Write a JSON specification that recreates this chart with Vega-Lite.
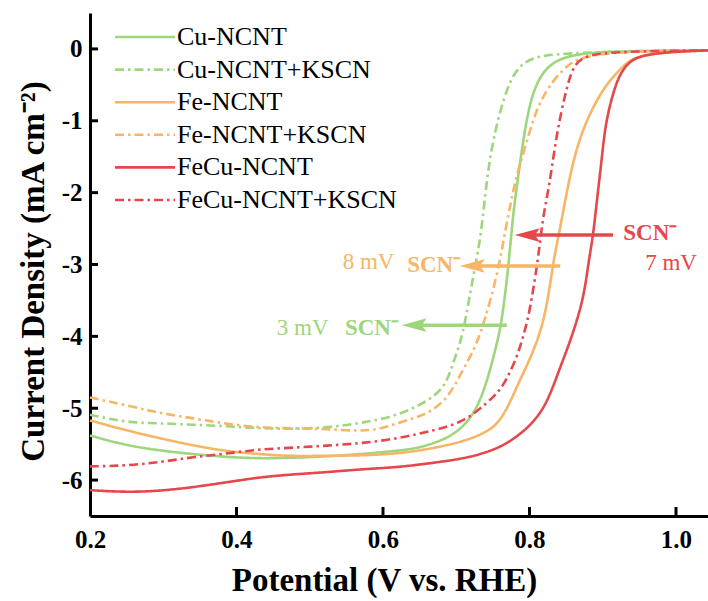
{
  "$schema": "https://vega.github.io/schema/vega-lite/v6.json",
  "width": 618,
  "height": 503,
  "autosize": {"type": "none"},
  "padding": {"left": 90, "top": 13, "right": 0, "bottom": 85},
  "background": "white",
  "config": {
    "view": {"stroke": null},
    "font": "Liberation Serif",
    "axis": {
      "labelFont": "Liberation Serif",
      "titleFont": "Liberation Serif",
      "labelColor": "black",
      "titleColor": "black",
      "domainColor": "black",
      "domainWidth": 3,
      "grid": false,
      "labelFlush": false,
      "labelOverlap": false
    }
  },
  "datasets": {
    "curves": [
      {"series": "Cu-NCNT", "E": 0.2, "j": -5.38}, {"series": "Cu-NCNT", "E": 0.25, "j": -5.52}, {"series": "Cu-NCNT", "E": 0.296, "j": -5.59}, {"series": "Cu-NCNT", "E": 0.341, "j": -5.64}, {"series": "Cu-NCNT", "E": 0.387, "j": -5.68}, {"series": "Cu-NCNT", "E": 0.432, "j": -5.7}, {"series": "Cu-NCNT", "E": 0.477, "j": -5.69}, {"series": "Cu-NCNT", "E": 0.524, "j": -5.67}, {"series": "Cu-NCNT", "E": 0.569, "j": -5.64}, {"series": "Cu-NCNT", "E": 0.623, "j": -5.59}, {"series": "Cu-NCNT", "E": 0.651, "j": -5.55}, {"series": "Cu-NCNT", "E": 0.692, "j": -5.41}, {"series": "Cu-NCNT", "E": 0.719, "j": -5.17}, {"series": "Cu-NCNT", "E": 0.736, "j": -4.82}, {"series": "Cu-NCNT", "E": 0.747, "j": -4.44}, {"series": "Cu-NCNT", "E": 0.755, "j": -4.12}, {"series": "Cu-NCNT", "E": 0.761, "j": -3.85}, {"series": "Cu-NCNT", "E": 0.767, "j": -3.4}, {"series": "Cu-NCNT", "E": 0.772, "j": -2.94}, {"series": "Cu-NCNT", "E": 0.776, "j": -2.48}, {"series": "Cu-NCNT", "E": 0.78, "j": -2.11}, {"series": "Cu-NCNT", "E": 0.787, "j": -1.59}, {"series": "Cu-NCNT", "E": 0.797, "j": -0.89}, {"series": "Cu-NCNT", "E": 0.81, "j": -0.43}, {"series": "Cu-NCNT", "E": 0.832, "j": -0.16}, {"series": "Cu-NCNT", "E": 0.869, "j": -0.06}, {"series": "Cu-NCNT", "E": 0.924, "j": -0.03}, {"series": "Cu-NCNT", "E": 1.044, "j": -0.02},

      {"series": "Cu-NCNT+KSCN", "E": 0.2, "j": -5.09}, {"series": "Cu-NCNT+KSCN", "E": 0.25, "j": -5.2}, {"series": "Cu-NCNT+KSCN", "E": 0.296, "j": -5.21}, {"series": "Cu-NCNT+KSCN", "E": 0.341, "j": -5.23}, {"series": "Cu-NCNT+KSCN", "E": 0.387, "j": -5.25}, {"series": "Cu-NCNT+KSCN", "E": 0.432, "j": -5.28}, {"series": "Cu-NCNT+KSCN", "E": 0.477, "j": -5.29}, {"series": "Cu-NCNT+KSCN", "E": 0.524, "j": -5.27}, {"series": "Cu-NCNT+KSCN", "E": 0.569, "j": -5.21}, {"series": "Cu-NCNT+KSCN", "E": 0.623, "j": -5.1}, {"series": "Cu-NCNT+KSCN", "E": 0.668, "j": -4.86}, {"series": "Cu-NCNT+KSCN", "E": 0.685, "j": -4.68}, {"series": "Cu-NCNT+KSCN", "E": 0.694, "j": -4.43}, {"series": "Cu-NCNT+KSCN", "E": 0.702, "j": -4.19}, {"series": "Cu-NCNT+KSCN", "E": 0.709, "j": -3.96}, {"series": "Cu-NCNT+KSCN", "E": 0.716, "j": -3.57}, {"series": "Cu-NCNT+KSCN", "E": 0.723, "j": -3.18}, {"series": "Cu-NCNT+KSCN", "E": 0.73, "j": -2.8}, {"series": "Cu-NCNT+KSCN", "E": 0.735, "j": -2.48}, {"series": "Cu-NCNT+KSCN", "E": 0.743, "j": -1.69}, {"series": "Cu-NCNT+KSCN", "E": 0.753, "j": -1.13}, {"series": "Cu-NCNT+KSCN", "E": 0.769, "j": -0.53}, {"series": "Cu-NCNT+KSCN", "E": 0.787, "j": -0.2}, {"series": "Cu-NCNT+KSCN", "E": 0.814, "j": -0.09}, {"series": "Cu-NCNT+KSCN", "E": 0.859, "j": -0.06}, {"series": "Cu-NCNT+KSCN", "E": 0.924, "j": -0.03}, {"series": "Cu-NCNT+KSCN", "E": 1.044, "j": -0.02},

      {"series": "Fe-NCNT", "E": 0.2, "j": -5.17}, {"series": "Fe-NCNT", "E": 0.25, "j": -5.31}, {"series": "Fe-NCNT", "E": 0.296, "j": -5.42}, {"series": "Fe-NCNT", "E": 0.341, "j": -5.52}, {"series": "Fe-NCNT", "E": 0.387, "j": -5.6}, {"series": "Fe-NCNT", "E": 0.432, "j": -5.64}, {"series": "Fe-NCNT", "E": 0.477, "j": -5.67}, {"series": "Fe-NCNT", "E": 0.524, "j": -5.66}, {"series": "Fe-NCNT", "E": 0.569, "j": -5.66}, {"series": "Fe-NCNT", "E": 0.623, "j": -5.63}, {"series": "Fe-NCNT", "E": 0.668, "j": -5.56}, {"series": "Fe-NCNT", "E": 0.715, "j": -5.45}, {"series": "Fe-NCNT", "E": 0.746, "j": -5.31}, {"series": "Fe-NCNT", "E": 0.76, "j": -5.17}, {"series": "Fe-NCNT", "E": 0.773, "j": -4.93}, {"series": "Fe-NCNT", "E": 0.785, "j": -4.65}, {"series": "Fe-NCNT", "E": 0.8, "j": -4.33}, {"series": "Fe-NCNT", "E": 0.811, "j": -4.05}, {"series": "Fe-NCNT", "E": 0.82, "j": -3.75}, {"series": "Fe-NCNT", "E": 0.827, "j": -3.36}, {"series": "Fe-NCNT", "E": 0.832, "j": -3.01}, {"series": "Fe-NCNT", "E": 0.837, "j": -2.73}, {"series": "Fe-NCNT", "E": 0.842, "j": -2.48}, {"series": "Fe-NCNT", "E": 0.85, "j": -2.04}, {"series": "Fe-NCNT", "E": 0.859, "j": -1.59}, {"series": "Fe-NCNT", "E": 0.87, "j": -1.2}, {"series": "Fe-NCNT", "E": 0.883, "j": -0.89}, {"series": "Fe-NCNT", "E": 0.896, "j": -0.64}, {"series": "Fe-NCNT", "E": 0.91, "j": -0.43}, {"series": "Fe-NCNT", "E": 0.933, "j": -0.18}, {"series": "Fe-NCNT", "E": 0.951, "j": -0.09}, {"series": "Fe-NCNT", "E": 0.992, "j": -0.04}, {"series": "Fe-NCNT", "E": 1.044, "j": -0.02},

      {"series": "Fe-NCNT+KSCN", "E": 0.2, "j": -4.85}, {"series": "Fe-NCNT+KSCN", "E": 0.25, "j": -4.96}, {"series": "Fe-NCNT+KSCN", "E": 0.296, "j": -5.07}, {"series": "Fe-NCNT+KSCN", "E": 0.341, "j": -5.14}, {"series": "Fe-NCNT+KSCN", "E": 0.387, "j": -5.22}, {"series": "Fe-NCNT+KSCN", "E": 0.432, "j": -5.27}, {"series": "Fe-NCNT+KSCN", "E": 0.477, "j": -5.28}, {"series": "Fe-NCNT+KSCN", "E": 0.524, "j": -5.29}, {"series": "Fe-NCNT+KSCN", "E": 0.569, "j": -5.32}, {"series": "Fe-NCNT+KSCN", "E": 0.596, "j": -5.29}, {"series": "Fe-NCNT+KSCN", "E": 0.623, "j": -5.2}, {"series": "Fe-NCNT+KSCN", "E": 0.651, "j": -5.11}, {"series": "Fe-NCNT+KSCN", "E": 0.668, "j": -5.03}, {"series": "Fe-NCNT+KSCN", "E": 0.687, "j": -4.86}, {"series": "Fe-NCNT+KSCN", "E": 0.698, "j": -4.68}, {"series": "Fe-NCNT+KSCN", "E": 0.709, "j": -4.47}, {"series": "Fe-NCNT+KSCN", "E": 0.724, "j": -4.19}, {"series": "Fe-NCNT+KSCN", "E": 0.733, "j": -3.96}, {"series": "Fe-NCNT+KSCN", "E": 0.747, "j": -3.5}, {"series": "Fe-NCNT+KSCN", "E": 0.76, "j": -2.94}, {"series": "Fe-NCNT+KSCN", "E": 0.767, "j": -2.52}, {"series": "Fe-NCNT+KSCN", "E": 0.775, "j": -2.11}, {"series": "Fe-NCNT+KSCN", "E": 0.783, "j": -1.73}, {"series": "Fe-NCNT+KSCN", "E": 0.797, "j": -1.27}, {"series": "Fe-NCNT+KSCN", "E": 0.81, "j": -0.81}, {"series": "Fe-NCNT+KSCN", "E": 0.832, "j": -0.43}, {"series": "Fe-NCNT+KSCN", "E": 0.855, "j": -0.2}, {"series": "Fe-NCNT+KSCN", "E": 0.869, "j": -0.13}, {"series": "Fe-NCNT+KSCN", "E": 0.896, "j": -0.07}, {"series": "Fe-NCNT+KSCN", "E": 0.951, "j": -0.03}, {"series": "Fe-NCNT+KSCN", "E": 1.044, "j": -0.02},

      {"series": "FeCu-NCNT", "E": 0.2, "j": -6.14}, {"series": "FeCu-NCNT", "E": 0.25, "j": -6.17}, {"series": "FeCu-NCNT", "E": 0.296, "j": -6.15}, {"series": "FeCu-NCNT", "E": 0.341, "j": -6.1}, {"series": "FeCu-NCNT", "E": 0.387, "j": -6.03}, {"series": "FeCu-NCNT", "E": 0.432, "j": -5.96}, {"series": "FeCu-NCNT", "E": 0.477, "j": -5.92}, {"series": "FeCu-NCNT", "E": 0.524, "j": -5.89}, {"series": "FeCu-NCNT", "E": 0.569, "j": -5.85}, {"series": "FeCu-NCNT", "E": 0.623, "j": -5.82}, {"series": "FeCu-NCNT", "E": 0.668, "j": -5.76}, {"series": "FeCu-NCNT", "E": 0.705, "j": -5.71}, {"series": "FeCu-NCNT", "E": 0.737, "j": -5.63}, {"series": "FeCu-NCNT", "E": 0.76, "j": -5.54}, {"series": "FeCu-NCNT", "E": 0.778, "j": -5.43}, {"series": "FeCu-NCNT", "E": 0.798, "j": -5.27}, {"series": "FeCu-NCNT", "E": 0.814, "j": -5.08}, {"series": "FeCu-NCNT", "E": 0.824, "j": -4.9}, {"series": "FeCu-NCNT", "E": 0.833, "j": -4.68}, {"series": "FeCu-NCNT", "E": 0.842, "j": -4.43}, {"series": "FeCu-NCNT", "E": 0.851, "j": -4.19}, {"series": "FeCu-NCNT", "E": 0.859, "j": -3.96}, {"series": "FeCu-NCNT", "E": 0.869, "j": -3.64}, {"series": "FeCu-NCNT", "E": 0.876, "j": -3.32}, {"series": "FeCu-NCNT", "E": 0.881, "j": -2.94}, {"series": "FeCu-NCNT", "E": 0.887, "j": -2.59}, {"series": "FeCu-NCNT", "E": 0.892, "j": -2.11}, {"series": "FeCu-NCNT", "E": 0.898, "j": -1.59}, {"series": "FeCu-NCNT", "E": 0.902, "j": -1.2}, {"series": "FeCu-NCNT", "E": 0.907, "j": -0.89}, {"series": "FeCu-NCNT", "E": 0.919, "j": -0.43}, {"series": "FeCu-NCNT", "E": 0.933, "j": -0.2}, {"series": "FeCu-NCNT", "E": 0.951, "j": -0.09}, {"series": "FeCu-NCNT", "E": 0.992, "j": -0.04}, {"series": "FeCu-NCNT", "E": 1.044, "j": -0.02},

      {"series": "FeCu-NCNT+KSCN", "E": 0.2, "j": -5.81}, {"series": "FeCu-NCNT+KSCN", "E": 0.25, "j": -5.8}, {"series": "FeCu-NCNT+KSCN", "E": 0.296, "j": -5.75}, {"series": "FeCu-NCNT+KSCN", "E": 0.341, "j": -5.68}, {"series": "FeCu-NCNT+KSCN", "E": 0.387, "j": -5.63}, {"series": "FeCu-NCNT+KSCN", "E": 0.432, "j": -5.57}, {"series": "FeCu-NCNT+KSCN", "E": 0.477, "j": -5.55}, {"series": "FeCu-NCNT+KSCN", "E": 0.524, "j": -5.52}, {"series": "FeCu-NCNT+KSCN", "E": 0.569, "j": -5.49}, {"series": "FeCu-NCNT+KSCN", "E": 0.623, "j": -5.42}, {"series": "FeCu-NCNT+KSCN", "E": 0.668, "j": -5.31}, {"series": "FeCu-NCNT+KSCN", "E": 0.709, "j": -5.2}, {"series": "FeCu-NCNT+KSCN", "E": 0.742, "j": -4.93}, {"series": "FeCu-NCNT+KSCN", "E": 0.76, "j": -4.75}, {"series": "FeCu-NCNT+KSCN", "E": 0.77, "j": -4.57}, {"series": "FeCu-NCNT+KSCN", "E": 0.782, "j": -4.31}, {"series": "FeCu-NCNT+KSCN", "E": 0.79, "j": -4.05}, {"series": "FeCu-NCNT+KSCN", "E": 0.797, "j": -3.8}, {"series": "FeCu-NCNT+KSCN", "E": 0.803, "j": -3.48}, {"series": "FeCu-NCNT+KSCN", "E": 0.809, "j": -3.1}, {"series": "FeCu-NCNT+KSCN", "E": 0.814, "j": -2.73}, {"series": "FeCu-NCNT+KSCN", "E": 0.818, "j": -2.38}, {"series": "FeCu-NCNT+KSCN", "E": 0.823, "j": -2.11}, {"series": "FeCu-NCNT+KSCN", "E": 0.828, "j": -1.83}, {"series": "FeCu-NCNT+KSCN", "E": 0.838, "j": -1.13}, {"series": "FeCu-NCNT+KSCN", "E": 0.849, "j": -0.61}, {"series": "FeCu-NCNT+KSCN", "E": 0.859, "j": -0.25}, {"series": "FeCu-NCNT+KSCN", "E": 0.873, "j": -0.11}, {"series": "FeCu-NCNT+KSCN", "E": 0.896, "j": -0.06}, {"series": "FeCu-NCNT+KSCN", "E": 0.951, "j": -0.03}, {"series": "FeCu-NCNT+KSCN", "E": 1.044, "j": -0.02}
    ],
    "xticks": [{"E": 0.4}, {"E": 0.6}, {"E": 0.8}, {"E": 1.0}],
    "yticks": [{"j": 0}, {"j": -1}, {"j": -2}, {"j": -3}, {"j": -4}, {"j": -5}, {"j": -6}],
    "arrows": [
      {"series": "FeCu-NCNT", "tail": 0.914, "shaft": 0.805, "tip": 0.78, "j": -2.59},
      {"series": "Fe-NCNT", "tail": 0.842, "shaft": 0.73, "tip": 0.705, "j": -3.02},
      {"series": "Cu-NCNT", "tail": 0.769, "shaft": 0.65, "tip": 0.6255, "j": -3.845}
    ],
    "shifts": [
      {"series": "Fe-NCNT", "label": "8 mV", "E": 0.545, "j": -2.96},
      {"series": "Cu-NCNT", "label": "3 mV", "E": 0.455, "j": -3.88},
      {"series": "FeCu-NCNT", "label": "7 mV", "E": 0.958, "j": -2.98}
    ],
    "ions": [
      {"series": "Fe-NCNT", "label": "SCN⁻", "E": 0.633, "j": -3.0},
      {"series": "Cu-NCNT", "label": "SCN⁻", "E": 0.548, "j": -3.88},
      {"series": "FeCu-NCNT", "label": "SCN⁻", "E": 0.928, "j": -2.56}
    ]
  },
  "layer": [
    {
      "data": {"name": "curves"},
      "mark": {"type": "line", "strokeWidth": 2.6, "interpolate": "basis"},
      "encoding": {
        "x": {
          "field": "E", "type": "quantitative",
          "scale": {"domain": [0.2, 1.0437], "nice": false, "zero": false},
          "axis": {
            "orient": "bottom",
            "values": [0.2, 0.4, 0.6, 0.8, 1.0],
            "format": ".1f",
            "labelFontSize": 25, "labelFontWeight": "bold",
            "labelBaseline": "alphabetic",
            "ticks": false, "tickSize": 0, "labelPadding": 31,
            "title": "Potential (V vs. RHE)",
            "titleFontSize": 33, "titleFontWeight": "bold",
            "titleBaseline": "alphabetic",
            "titleX": 294, "titleY": 74
          }
        },
        "y": {
          "field": "j", "type": "quantitative",
          "scale": {"domain": [-6.5, 0.5], "nice": false, "zero": false},
          "axis": {
            "orient": "left",
            "values": [0, -1, -2, -3, -4, -5, -6],
            "labelExpr": "datum.value < 0 ? '-' + (-datum.value) : '' + datum.value",
            "labelFontSize": 25, "labelFontWeight": "bold",
            "ticks": false, "tickSize": 0, "labelPadding": 8,
            "title": "Current Density (mA cm⁻²)",
            "titleFontSize": 33, "titleFontWeight": "bold",
            "titleBaseline": "alphabetic",
            "titleX": -47, "titleY": 258
          }
        },
        "color": {
          "field": "series", "type": "nominal",
          "scale": {
            "domain": ["Cu-NCNT", "Cu-NCNT+KSCN", "Fe-NCNT", "Fe-NCNT+KSCN", "FeCu-NCNT", "FeCu-NCNT+KSCN"],
            "range": ["#9dd67c", "#9dd67c", "#f7b565", "#f7b565", "#e5474b", "#e5474b"]
          },
          "legend": {
            "orient": "none", "legendX": 42, "legendY": 11,
            "title": null, "padding": 0,
            "symbolType": "M-3,0H3", "symbolSize": 400, "symbolStrokeWidth": 2.6,
            "labelFont": "Liberation Serif", "labelFontSize": 26, "labelColor": "black",
            "labelOffset": 19, "labelLimit": 400, "rowPadding": 6.6
          }
        },
        "strokeDash": {
          "field": "series", "type": "nominal",
          "scale": {
            "domain": ["Cu-NCNT", "Cu-NCNT+KSCN", "Fe-NCNT", "Fe-NCNT+KSCN", "FeCu-NCNT", "FeCu-NCNT+KSCN"],
            "range": [[1, 0], [9, 4, 2.5, 4], [1, 0], [9, 4, 2.5, 4], [1, 0], [9, 4, 2.5, 4]]
          },
          "legend": {
            "orient": "none", "legendX": 42, "legendY": 11,
            "title": null, "padding": 0,
            "symbolType": "M-3,0H3", "symbolSize": 400, "symbolStrokeWidth": 2.6,
            "labelFont": "Liberation Serif", "labelFontSize": 26, "labelColor": "black",
            "labelOffset": 19, "labelLimit": 400, "rowPadding": 6.6
          }
        }
      }
    },
    {
      "data": {"name": "xticks"},
      "mark": {"type": "rule", "color": "black", "strokeWidth": 3},
      "encoding": {
        "x": {"field": "E", "type": "quantitative", "scale": {"domain": [0.2, 1.0437], "nice": false, "zero": false}, "axis": null},
        "y": {"datum": -6.5, "type": "quantitative", "scale": {"domain": [-6.5, 0.5], "nice": false, "zero": false}, "axis": null},
        "y2": {"datum": -6.375}
      }
    },
    {
      "data": {"name": "yticks"},
      "mark": {"type": "rule", "color": "black", "strokeWidth": 3},
      "encoding": {
        "y": {"field": "j", "type": "quantitative", "scale": {"domain": [-6.5, 0.5], "nice": false, "zero": false}, "axis": null},
        "x": {"datum": 0.2, "type": "quantitative", "scale": {"domain": [0.2, 1.0437], "nice": false, "zero": false}, "axis": null},
        "x2": {"datum": 0.2109}
      }
    },
    {
      "data": {"name": "arrows"},
      "mark": {"type": "point", "shape": "M0,0L2,-0.55L1.6,0L2,0.55Z", "size": 625, "filled": true, "opacity": 1, "strokeWidth": 0},
      "encoding": {
        "x": {"field": "tip", "type": "quantitative", "scale": {"domain": [0.2, 1.0437], "nice": false, "zero": false}, "axis": null},
        "y": {"field": "j", "type": "quantitative", "scale": {"domain": [-6.5, 0.5], "nice": false, "zero": false}, "axis": null},
        "color": {"field": "series", "type": "nominal", "legend": null}
      }
    },
    {
      "data": {"name": "arrows"},
      "mark": {"type": "rule", "strokeWidth": 3.5},
      "encoding": {
        "x": {"field": "tail", "type": "quantitative", "scale": {"domain": [0.2, 1.0437], "nice": false, "zero": false}, "axis": null},
        "x2": {"field": "shaft"},
        "y": {"field": "j", "type": "quantitative", "scale": {"domain": [-6.5, 0.5], "nice": false, "zero": false}, "axis": null},
        "color": {"field": "series", "type": "nominal", "legend": null}
      }
    },
    {
      "mark": {"type": "rule", "color": "black", "strokeWidth": 3},
      "encoding": {
        "y": {"datum": 0.5, "type": "quantitative", "scale": {"domain": [-6.5, 0.5], "nice": false, "zero": false}, "axis": null}
      }
    },
    {
      "data": {"name": "shifts"},
      "mark": {"type": "text", "font": "Liberation Serif", "fontSize": 23, "align": "left", "baseline": "middle"},
      "encoding": {
        "x": {"field": "E", "type": "quantitative", "scale": {"domain": [0.2, 1.0437], "nice": false, "zero": false}, "axis": null},
        "y": {"field": "j", "type": "quantitative", "scale": {"domain": [-6.5, 0.5], "nice": false, "zero": false}, "axis": null},
        "text": {"field": "label"},
        "color": {"field": "series", "type": "nominal", "legend": null}
      }
    },
    {
      "data": {"name": "ions"},
      "mark": {"type": "text", "font": "Liberation Serif", "fontSize": 23, "fontWeight": "bold", "align": "left", "baseline": "middle"},
      "encoding": {
        "x": {"field": "E", "type": "quantitative", "scale": {"domain": [0.2, 1.0437], "nice": false, "zero": false}, "axis": null},
        "y": {"field": "j", "type": "quantitative", "scale": {"domain": [-6.5, 0.5], "nice": false, "zero": false}, "axis": null},
        "text": {"field": "label"},
        "color": {"field": "series", "type": "nominal", "legend": null}
      }
    }
  ],
  "resolve": {"axis": {"x": "independent", "y": "independent"}}
}
